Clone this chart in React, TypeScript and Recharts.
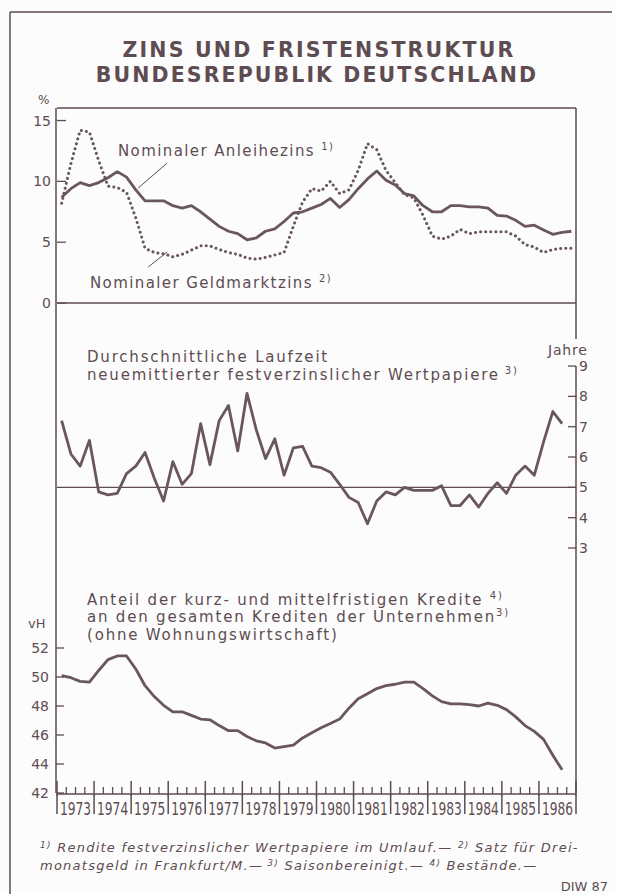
import { ComposedChart, Line, XAxis, YAxis, ReferenceLine } from "recharts"

// quarterly values 1973 Q1 .. 1986 Q4
const years = [1973, 1974, 1975, 1976, 1977, 1978, 1979, 1980, 1981, 1982, 1983, 1984, 1985, 1986]
const quarterCentres = [0.125, 0.375, 0.625, 0.875]

// Nominaler Anleihezins (%)
const anleihezins = [
  8.7, 9.4, 9.9, 9.65, 9.9, 10.3, 10.8, 10.35, 9.3, 8.4, 8.4, 8.4, 8.0, 7.8,
  8.0, 7.5, 6.9, 6.3, 5.9, 5.7, 5.2, 5.35, 5.9, 6.1, 6.7, 7.4, 7.5, 7.8,
  8.1, 8.6, 7.85, 8.5, 9.4, 10.2, 10.85, 10.1, 9.7, 9.0, 8.8, 8.0, 7.5, 7.5,
  8.0, 8.0, 7.9, 7.9, 7.8, 7.2, 7.15, 6.8, 6.3, 6.4, 6.0, 5.65, 5.8, 5.9,
]
// Nominaler Geldmarktzins (%)
const geldmarktzins = [
  8.2, 11.45, 14.2, 14.05, 11.7, 9.6, 9.5, 9.1, 7.0, 4.5, 4.15, 4.05, 3.8, 4.0,
  4.35, 4.7, 4.7, 4.4, 4.15, 4.0, 3.7, 3.6, 3.75, 3.95, 4.15, 6.3, 8.3, 9.4,
  9.2, 10.0, 9.0, 9.3, 10.9, 13.1, 12.6, 10.9, 9.9, 8.9, 8.65, 7.2, 5.5, 5.25,
  5.5, 6.05, 5.7, 5.85, 5.85, 5.85, 5.85, 5.5, 4.8, 4.6, 4.15, 4.4, 4.5, 4.5,
]
// Durchschnittliche Laufzeit (Jahre)
const laufzeit = [
  7.2, 6.1, 5.7, 6.55, 4.85, 4.75, 4.8, 5.45, 5.7, 6.15, 5.3, 4.55, 5.85, 5.1,
  5.45, 7.1, 5.75, 7.2, 7.7, 6.2, 8.1, 6.9, 5.95, 6.6, 5.4, 6.3, 6.35, 5.7,
  5.65, 5.5, 5.1, 4.67, 4.5, 3.8, 4.55, 4.85, 4.75, 5.0, 4.9, 4.9, 4.9, 5.05,
  4.4, 4.4, 4.75, 4.35, 4.8, 5.15, 4.8, 5.4, 5.7, 5.4, 6.5, 7.5, 7.1,
]
// Anteil kurz- und mittelfristiger Kredite (vH)
const kreditanteil = [
  50.1, 49.95, 49.7, 49.65, 50.45, 51.2, 51.45, 51.45, 50.55, 49.4, 48.65, 48.05, 47.6, 47.6,
  47.35, 47.1, 47.05, 46.65, 46.3, 46.3, 45.9, 45.6, 45.45, 45.1, 45.2, 45.3, 45.8, 46.15,
  46.5, 46.8, 47.1, 47.85, 48.5, 48.85, 49.2, 49.4, 49.5, 49.65, 49.65, 49.2, 48.7, 48.3,
  48.15, 48.15, 48.1, 48.0, 48.2, 48.05, 47.75, 47.25, 46.65, 46.25, 45.7, 44.6, 43.6,
]

const pctTicks = [0, 5, 10, 15]
const jahreTicks = [3, 4, 5, 6, 7, 8, 9]
const vhTicks = [42, 44, 46, 48, 50, 52]

const rows = years.flatMap((y, yi) =>
  quarterCentres.map((q, qi) => {
    const i = yi * 4 + qi
    return {
      t: y + q,
      anleihe: anleihezins[i],
      geld: geldmarktzins[i],
      laufzeit: laufzeit[i] ?? null,
      kredite: kreditanteil[i] ?? null,
    }
  })
)

const yearEdges = [...years, 1987]
const quarterTicks = years.flatMap((y) => [y + 0.25, y + 0.5, y + 0.75])
const yearMids = years.map((y) => y + 0.5)

const ink = "#5e4c52"
const lineInk = "#6a575c"
const font = "'DejaVu Sans', sans-serif"

const X_DOMAIN = [1973, 1987]
const PCT_DOMAIN = [-40.27, 16.03]
const JAHRE_DOMAIN = [-5.08, 17.51]
const VH_DOMAIN = [42, 89.24]

const tickFont = { fontFamily: font, fontSize: 14, fill: ink }
const axisStroke = { stroke: ink, strokeWidth: 1.5 }

const NoLabel = () => <g />

// squeezed year labels, like the narrow type in the print
const YearTick = (props: any) => {
  const { x, y, payload } = props
  return (
    <g transform={`translate(${x},${y + 14}) scale(0.72,1)`}>
      <text x={0} y={0} textAnchor="middle" fontFamily={font} fontSize={17} fill={ink}>
        {String(Math.floor(payload.value))}
      </text>
    </g>
  )
}

function Labels() {
  const txt = { fontFamily: font, fontSize: 15, fill: ink, letterSpacing: 1.8 } as const
  const txtTop = { ...txt, letterSpacing: 1.4 }
  const sup = { fontSize: 10, dy: -6 } as const
  const foot = { fontFamily: font, fontSize: 13, fontStyle: "italic", fill: ink, letterSpacing: 1.25 } as const
  return (
    <svg width={617} height={894} style={{ position: "absolute", left: 0, top: 0, pointerEvents: "none" }}>
      <line x1={10} y1={12} x2={612} y2={12} stroke={ink} strokeWidth={1.5} />
      <line x1={10} y1={12} x2={10} y2={894} stroke={ink} strokeWidth={1.5} />

      <text x={319} y={57} textAnchor="middle" fontFamily={font} fontWeight="bold" fontSize={20.5} letterSpacing={2.2} fill={ink}>
        ZINS UND FRISTENSTRUKTUR
      </text>
      <text x={317} y={82} textAnchor="middle" fontFamily={font} fontWeight="bold" fontSize={20.5} letterSpacing={2.1} fill={ink}>
        BUNDESREPUBLIK DEUTSCHLAND
      </text>

      <text x={38} y={104} fontFamily={font} fontSize={12} fill={ink}>%</text>
      <text x={28} y={628} fontFamily={font} fontSize={13} fill={ink}>vH</text>
      <text x={548} y={355} fontFamily={font} fontSize={14} fill={ink} letterSpacing={0.8}>Jahre</text>

      <text x={118} y={156} {...txtTop}>
        Nominaler Anleihezins <tspan {...sup}>1)</tspan>
      </text>
      <text x={90} y={288} {...txtTop}>
        Nominaler Geldmarktzins <tspan {...sup}>2)</tspan>
      </text>

      <text x={87} y={362} {...txt}>Durchschnittliche Laufzeit</text>
      <text x={87} y={380} {...txt}>
        neuemittierter festverzinslicher Wertpapiere<tspan {...sup}> 3)</tspan>
      </text>

      <text x={87} y={605} {...txt}>
        Anteil der kurz- und mittelfristigen Kredite <tspan {...sup}>4)</tspan>
      </text>
      <text x={87} y={622} {...txt}>
        an den gesamten Krediten der Unternehmen<tspan {...sup}>3)</tspan>
      </text>
      <text x={87} y={640} {...txt}>(ohne Wohnungswirtschaft)</text>

      <text x={40} y={852} {...foot}>
        <tspan fontSize={9} dy={-4}>1)</tspan>
        <tspan dy={4}> Rendite festverzinslicher Wertpapiere im Umlauf.— </tspan>
        <tspan fontSize={9} dy={-4}>2)</tspan>
        <tspan dy={4}> Satz für Drei-</tspan>
      </text>
      <text x={40} y={870} {...foot}>
        monatsgeld in Frankfurt/M.—
        <tspan fontSize={9} dy={-4}> 3)</tspan>
        <tspan dy={4}> Saisonbereinigt.— </tspan>
        <tspan fontSize={9} dy={-4}>4)</tspan>
        <tspan dy={4}> Bestände.—</tspan>
      </text>
      <text x={608} y={891} textAnchor="end" fontFamily={font} fontSize={13} fill={ink}>DIW 87</text>
    </svg>
  )
}

export default function App() {
  return (
    <div style={{ position: "absolute", left: 0, top: 0, width: 617, height: 894, background: "#fbfcfb" }}>
      <ComposedChart
        width={617}
        height={894}
        data={rows}
        margin={{ top: 107, right: 40, bottom: 97, left: 55 }}
      >
        <XAxis xAxisId="q" type="number" dataKey="t" domain={X_DOMAIN} allowDataOverflow
          ticks={quarterTicks} interval={0} tick={NoLabel} tickSize={-7} height={1}
          axisLine={axisStroke} tickLine={{ stroke: ink, strokeWidth: 1.3 }} />
        <XAxis xAxisId="yd" type="number" dataKey="t" domain={X_DOMAIN} allowDataOverflow
          ticks={yearEdges} interval={0} tick={NoLabel} tickSize={19} height={1}
          axisLine={false} tickLine={{ stroke: ink, strokeWidth: 1.5 }} />
        <XAxis xAxisId="yu" type="number" dataKey="t" domain={X_DOMAIN} allowDataOverflow
          ticks={yearEdges} interval={0} tick={NoLabel} tickSize={-15} height={1}
          axisLine={false} tickLine={{ stroke: ink, strokeWidth: 1.5 }} />
        <XAxis xAxisId="lab" type="number" dataKey="t" domain={X_DOMAIN} allowDataOverflow
          ticks={yearMids} interval={0} height={1} axisLine={false} tickLine={false}
          tick={YearTick} />
        <XAxis xAxisId="top" orientation="top" type="number" dataKey="t" domain={X_DOMAIN}
          allowDataOverflow tick={false} tickLine={false} height={1} axisLine={axisStroke} />

        <YAxis yAxisId="vh" type="number" domain={VH_DOMAIN} allowDataOverflow ticks={vhTicks}
          interval={0} width={1} tickSize={-8} tickMargin={15} axisLine={axisStroke}
          tickLine={{ stroke: ink, strokeWidth: 1.3 }} tick={tickFont} />
        <YAxis yAxisId="pct" type="number" domain={PCT_DOMAIN} allowDataOverflow ticks={pctTicks}
          interval={0} width={1} tickSize={-9} tickMargin={15} axisLine={false}
          tickLine={{ stroke: ink, strokeWidth: 1.3 }} tick={tickFont} />
        <YAxis yAxisId="j" orientation="right" type="number" domain={JAHRE_DOMAIN} allowDataOverflow
          ticks={jahreTicks} interval={0} width={1} tickSize={-8} tickMargin={11} axisLine={false}
          tickLine={{ stroke: ink, strokeWidth: 1.3 }} tick={{ ...tickFont, textAnchor: "start" }} />

        <ReferenceLine xAxisId="q" yAxisId="pct" y={0} stroke={ink} strokeWidth={1.5} />
        <ReferenceLine xAxisId="q" yAxisId="j" y={5} stroke={ink} strokeWidth={1.3} />
        <ReferenceLine xAxisId="q" yAxisId="j" ifOverflow="visible" stroke={ink} strokeWidth={1.5}
          segment={[{ x: 1987, y: 17.51 }, { x: 1987, y: 9.89 }]} />
        <ReferenceLine xAxisId="q" yAxisId="j" ifOverflow="visible" stroke={ink} strokeWidth={1.5}
          segment={[{ x: 1987, y: 9 }, { x: 1987, y: -5.08 }]} />
        <ReferenceLine xAxisId="q" yAxisId="pct" ifOverflow="visible" stroke={ink} strokeWidth={1}
          segment={[{ x: 1975.19, y: 9.45 }, { x: 1975.97, y: 11.5 }]} />
        <ReferenceLine xAxisId="q" yAxisId="pct" ifOverflow="visible" stroke={ink} strokeWidth={1}
          segment={[{ x: 1975.46, y: 2.96 }, { x: 1975.97, y: 4.19 }]} />

        <Line xAxisId="q" yAxisId="pct" dataKey="anleihe" stroke={lineInk} strokeWidth={2.8}
          dot={false} isAnimationActive={false} strokeLinejoin="round" />
        <Line xAxisId="q" yAxisId="pct" dataKey="geld" stroke={lineInk} strokeWidth={3}
          strokeDasharray="0.1 5" strokeLinecap="round" dot={false} isAnimationActive={false} />
        <Line xAxisId="q" yAxisId="j" dataKey="laufzeit" stroke={lineInk} strokeWidth={2.8}
          dot={false} isAnimationActive={false} strokeLinejoin="round" />
        <Line xAxisId="q" yAxisId="vh" dataKey="kredite" stroke={lineInk} strokeWidth={2.8}
          dot={false} isAnimationActive={false} strokeLinejoin="round" />
      </ComposedChart>
      <Labels />
    </div>
  )
}
